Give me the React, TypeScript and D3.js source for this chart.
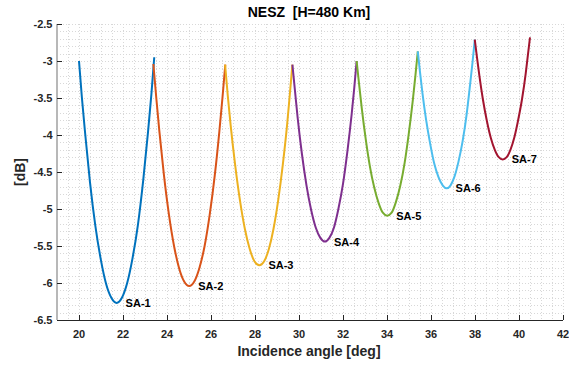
import React from "react";
import * as d3 from "d3";

const W = 569;
const H = 366;

const xTicks = [20, 22, 24, 26, 28, 30, 32, 34, 36, 38, 40, 42];
const yTicks = [-2.5, -3, -3.5, -4, -4.5, -5, -5.5, -6, -6.5];
const yTickLabels = ["-2.5", "-3", "-3.5", "-4", "-4.5", "-5", "-5.5", "-6", "-6.5"];

const seriesNames = ["SA-1", "SA-2", "SA-3", "SA-4", "SA-5", "SA-6", "SA-7"];
const seriesColors = ["#0072BD", "#D95319", "#EDB120", "#7E2F8E", "#77AC30", "#4DBEEE", "#A2142F"];

const sa1: [number, number][] = [
  [20.0, -3.0], [20.13, -3.49], [20.28, -3.98], [20.5, -4.64], [20.74, -5.22], [20.99, -5.68], [21.23, -6.01], [21.47, -6.2],
  [21.71, -6.27],
  [21.95, -6.2], [22.19, -6.0], [22.43, -5.67], [22.68, -5.21], [22.92, -4.61], [23.14, -3.95], [23.29, -3.45], [23.42, -2.95],
];
const sa2: [number, number][] = [
  [23.38, -3.04], [23.51, -3.49], [23.65, -3.94], [23.86, -4.54], [24.09, -5.08], [24.32, -5.5], [24.55, -5.8], [24.78, -5.98],
  [25.01, -6.04],
  [25.24, -5.98], [25.47, -5.8], [25.71, -5.5], [25.94, -5.08], [26.17, -4.55], [26.38, -3.95], [26.52, -3.5], [26.65, -3.05],
];
const sa3: [number, number][] = [
  [26.64, -3.05], [26.76, -3.46], [26.89, -3.86], [27.1, -4.41], [27.32, -4.89], [27.54, -5.27], [27.76, -5.54], [27.98, -5.71],
  [28.2, -5.76],
  [28.41, -5.71], [28.63, -5.54], [28.84, -5.27], [29.05, -4.89], [29.26, -4.41], [29.46, -3.86], [29.58, -3.46], [29.7, -3.05],
];
const sa4: [number, number][] = [
  [29.7, -3.05], [29.82, -3.41], [29.94, -3.77], [30.13, -4.25], [30.34, -4.68], [30.55, -5.01], [30.76, -5.25], [30.97, -5.39],
  [31.18, -5.44],
  [31.38, -5.39], [31.59, -5.25], [31.79, -5.0], [32.0, -4.66], [32.2, -4.22], [32.39, -3.73], [32.51, -3.37], [32.62, -3.0],
];
const sa5: [number, number][] = [
  [32.62, -3.0], [32.73, -3.31], [32.85, -3.63], [33.03, -4.05], [33.22, -4.42], [33.42, -4.71], [33.62, -4.92], [33.81, -5.05],
  [34.01, -5.09],
  [34.21, -5.05], [34.4, -4.91], [34.6, -4.69], [34.8, -4.38], [34.99, -3.98], [35.17, -3.54], [35.29, -3.2], [35.4, -2.87],
];
const sa6: [number, number][] = [
  [35.4, -2.87], [35.5, -3.15], [35.61, -3.43], [35.78, -3.8], [35.97, -4.13], [36.15, -4.39], [36.34, -4.57], [36.53, -4.68],
  [36.71, -4.72],
  [36.89, -4.68], [37.07, -4.56], [37.25, -4.36], [37.44, -4.08], [37.62, -3.72], [37.78, -3.31], [37.89, -3.01], [37.99, -2.71],
];
const sa7: [number, number][] = [
  [37.99, -2.71], [38.09, -2.95], [38.2, -3.2], [38.36, -3.52], [38.54, -3.81], [38.72, -4.04], [38.9, -4.2], [39.08, -4.3],
  [39.26, -4.33],
  [39.44, -4.3], [39.61, -4.2], [39.79, -4.03], [39.96, -3.8], [40.14, -3.51], [40.3, -3.18], [40.4, -2.93], [40.5, -2.68],
];
const seriesData = [sa1, sa2, sa3, sa4, sa5, sa6, sa7];

const left = 57;
const right = 563;
const top = 24;
const bottom = 320;

export default function App() {
  const x = d3.scaleLinear().domain([19, 42]).range([left, right]);
  const y = d3.scaleLinear().domain([-6.5, -2.5]).range([bottom, top]);

  const minorX = d3.range(19, 42.001, 0.5);
  const minorY = d3.range(-6.5, -2.4999, 0.1);

  const line = d3
    .line<[number, number]>()
    .x((d) => x(d[0]))
    .y((d) => y(d[1]))
    .curve(d3.curveMonotoneX);

  const font = "'Liberation Sans', Arial, Helvetica, sans-serif";

  return (
    <svg
      width={W}
      height={H}
      style={{ position: "absolute", left: 0, top: 0, background: "#fff" }}
      fontFamily={font}
    >
      <rect x={0} y={0} width={W} height={H} fill="#fff" />
      {/* grid */}
      <g stroke="#d8d8d8" strokeWidth={1} strokeDasharray="1,2" fill="none">
        {minorX.map((v, i) => (
          <line key={"gx" + i} x1={Math.round(x(v)) + 0.5} x2={Math.round(x(v)) + 0.5} y1={top} y2={bottom} />
        ))}
        {minorY.map((v, i) => (
          <line key={"gy" + i} x1={left} x2={right} y1={Math.round(y(v)) + 0.5} y2={Math.round(y(v)) + 0.5} />
        ))}
      </g>
      {/* curves */}
      {seriesData.map((d, i) => (
        <path key={"s" + i} d={line(d) || ""} fill="none" stroke={seriesColors[i]} strokeWidth={2} strokeLinejoin="round" />
      ))}
      {/* series labels */}
      {seriesData.map((d, i) => {
        const m = d.reduce((a, b) => (b[1] < a[1] ? b : a));
        return (
          <text key={"l" + i} x={x(m[0]) + 9} y={y(m[1]) + 4} fontSize={11} fontWeight="bold" fill="#000">
            {seriesNames[i]}
          </text>
        );
      })}
      {/* axes */}
      <line x1={left} x2={left} y1={top} y2={bottom} stroke="#b8b8b8" strokeWidth={2} />
      <line x1={left} x2={right} y1={bottom + 0.5} y2={bottom + 0.5} stroke="#262626" strokeWidth={1} />
      {xTicks.map((v) => (
        <g key={"xt" + v}>
          <line x1={Math.round(x(v)) + 0.5} x2={Math.round(x(v)) + 0.5} y1={bottom} y2={bottom - 5} stroke="#262626" />
          <text x={x(v)} y={337.5} textAnchor="middle" fontSize={11} fontWeight="bold" fill="#262626">
            {v}
          </text>
        </g>
      ))}
      {yTicks.map((v, i) => (
        <g key={"yt" + v}>
          <line x1={left} x2={left + 5} y1={Math.round(y(v)) + 0.5} y2={Math.round(y(v)) + 0.5} stroke="#262626" />
          <text x={52.5} y={y(v) + 4} textAnchor="end" fontSize={11} fontWeight="bold" fill="#262626">
            {yTickLabels[i]}
          </text>
        </g>
      ))}
      {/* title and labels */}
      <text x={309} y={17} textAnchor="middle" fontSize={14} fontWeight="bold" fill="#000" style={{ whiteSpace: "pre" }}>
        {"NESZ  [H=480 Km]"}
      </text>
      <text x={309} y={355.5} textAnchor="middle" fontSize={14} fontWeight="bold" fill="#262626">
        Incidence angle [deg]
      </text>
      <text
        transform={`translate(25,172) rotate(-90)`}
        textAnchor="middle"
        fontSize={14}
        fontWeight="bold"
        fill="#262626"
      >
        [dB]
      </text>
    </svg>
  );
}
